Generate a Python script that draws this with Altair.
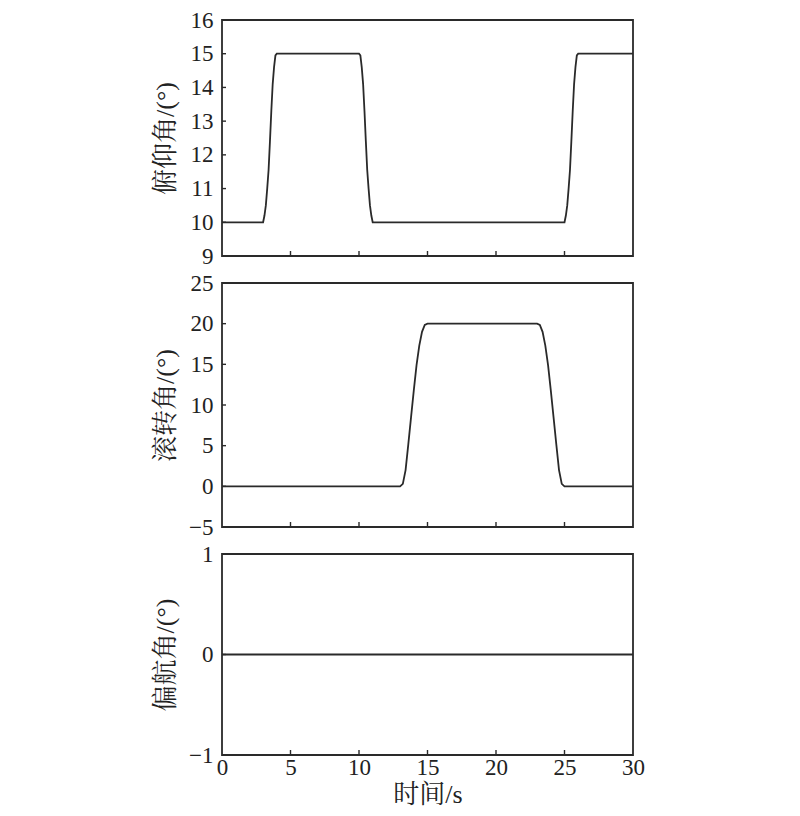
import altair as alt
import pandas as pd

# ---- data ----
time_pitch = [0, 3, 3.1, 3.2, 3.3, 3.4, 3.5, 3.6, 3.7, 3.8, 3.9, 4,
              10, 10.1, 10.2, 10.3, 10.4, 10.5, 10.6, 10.7, 10.8, 10.9, 11,
              25, 25.1, 25.2, 25.3, 25.4, 25.5, 25.6, 25.7, 25.8, 25.9, 26, 30]
pitch_deg = [10, 10, 10.2, 10.5, 11.0, 11.55, 12.4, 13.3, 14.1, 14.6, 14.95, 15,
             15, 14.95, 14.6, 14.1, 13.3, 12.4, 11.55, 11.0, 10.5, 10.2, 10,
             10, 10.2, 10.5, 11.0, 11.55, 12.4, 13.3, 14.1, 14.6, 14.95, 15, 15]

time_roll = [0, 13, 13.2, 13.4, 13.6, 13.8, 14.0, 14.2, 14.4, 14.6, 14.8, 15,
             23, 23.2, 23.4, 23.6, 23.8, 24.0, 24.2, 24.4, 24.6, 24.8, 25, 30]
roll_deg = [0, 0, 0.3, 2.0, 5.2, 8.5, 11.8, 14.9, 17.3, 19.0, 19.85, 20,
            20, 19.85, 19.0, 17.3, 14.9, 11.8, 8.5, 5.2, 2.0, 0.3, 0, 0]

time_yaw = [0, 30]
yaw_deg = [0, 0]

x_label_values = [0, 5, 10, 15, 20, 25, 30]
x_tick_values = [5, 10, 15, 20, 25]

pitch_labels = [9, 10, 11, 12, 13, 14, 15, 16]
pitch_ticks = [10, 11, 12, 13, 14, 15]
roll_labels = [-5, 0, 5, 10, 15, 20, 25]
roll_ticks = [0, 5, 10, 15, 20]
yaw_labels = [-1, 0, 1]
yaw_ticks = [0]

FONT = "Liberation Serif, Times New Roman, Noto Serif CJK SC, Noto Sans CJK SC"
INK = "#2a2a2a"
W = 411
LABEL_SIZE = 23
TITLE_SIZE = 26


def panel(t, v, ydomain, ylabels, yticks, ytitle, height, bottom):
    df = pd.DataFrame({"t": t, "v": v})
    xscale = alt.Scale(domain=[0, 30], nice=False, zero=False)
    yscale = alt.Scale(domain=ydomain, nice=False, zero=False)
    if bottom:
        xaxis = alt.Axis(values=x_label_values, title="时间/s", ticks=False,
                         domain=False, grid=False, labelFlush=False,
                         labelOverlap=False, labelPadding=1, titlePadding=2,
                         format=".0f",
                         labelFont=FONT, titleFont=FONT,
                         labelFontSize=LABEL_SIZE, titleFontSize=TITLE_SIZE,
                         titleFontWeight="normal")
    else:
        xaxis = None
    yaxis = alt.Axis(values=ylabels, title=ytitle, ticks=False, domain=False,
                     grid=False, labelPadding=9, labelOverlap=False,
                     labelFlush=False, labelBound=False, format=".0f",
                     labelFont=FONT, titleFont=FONT,
                     labelFontSize=LABEL_SIZE, titleFontSize=TITLE_SIZE,
                     titleFontWeight="normal",
                     titleAngle=270, titleX=-57, titleY=height / 2,
                     titleAlign="center", titleBaseline="middle")
    line = alt.Chart(df).mark_line(color=INK, strokeWidth=1.8).encode(
        x=alt.X("t:Q", scale=xscale, axis=xaxis),
        y=alt.Y("v:Q", scale=yscale, axis=yaxis),
    )
    xt = alt.Chart(pd.DataFrame({"t": x_tick_values})).mark_rule(
        color=INK, strokeWidth=1.4).encode(
        x=alt.X("t:Q", scale=xscale, axis=xaxis),
        y=alt.value(height), y2=alt.value(height - 5),
    )
    yt = alt.Chart(pd.DataFrame({"v": yticks})).mark_rule(
        color=INK, strokeWidth=1.4).encode(
        y=alt.Y("v:Q", scale=yscale, axis=yaxis),
        x=alt.value(0), x2=alt.value(4),
    )
    return alt.layer(line, xt, yt).properties(width=W, height=height)


p1 = panel(time_pitch, pitch_deg, [9, 16], pitch_labels, pitch_ticks,
           "俯仰角/(°)", 236, False)
p2 = panel(time_roll, roll_deg, [-5, 25], roll_labels, roll_ticks,
           "滚转角/(°)", 244, False)
p3 = panel(time_yaw, yaw_deg, [-1, 1], yaw_labels, yaw_ticks,
           "偏航角/(°)", 201, True)

chart = alt.vconcat(p1, p2, p3, spacing=27, bounds="flush").properties(
    padding={"left": 143, "top": 0, "right": 5, "bottom": 5}
).configure_view(
    stroke=INK, strokeWidth=1.8
).configure_axis(
    labelColor="#222222", titleColor="#222222"
)

chart.save("out.html", embed_options={"renderer": "svg", "actions": False})
